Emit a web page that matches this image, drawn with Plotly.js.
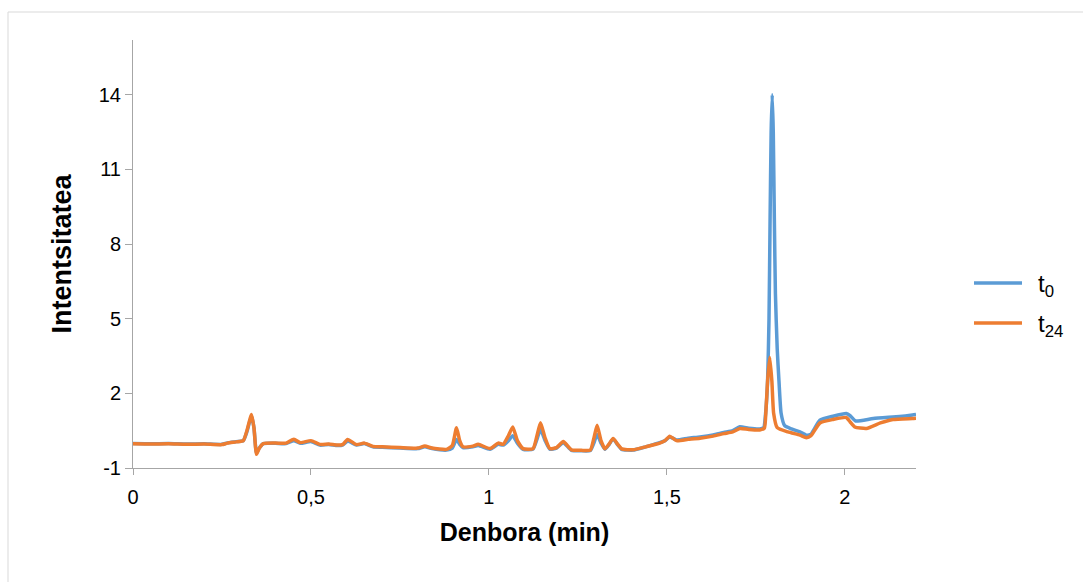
<!DOCTYPE html>
<html>
<head>
<meta charset="utf-8">
<script src="https://cdn.plot.ly/plotly-3.0.1.min.js"></script>
<style>
  html, body { margin: 0; padding: 0; background: #ffffff; }
  #chart { width: 1083px; height: 582px; }
</style>
</head>
<body>
<div id="chart"></div>
<script>
// ---- Data ----
const seriesNames = ['t<sub>0</sub>', 't<sub>24</sub>'];

const timeT0 = [0, 0.05, 0.10, 0.15, 0.20, 0.25, 0.265, 0.29, 0.31, 0.32, 0.333, 0.34, 0.347, 0.355, 0.366,
  0.40, 0.43, 0.452, 0.47, 0.50, 0.525, 0.55, 0.575, 0.59, 0.603, 0.628, 0.65, 0.674, 0.70, 0.75, 0.80,
  0.82, 0.84, 0.881, 0.897, 0.909, 0.918, 0.927, 0.955, 0.97, 1.003, 1.026, 1.04, 1.055, 1.067, 1.08,
  1.096, 1.124, 1.135, 1.145, 1.158, 1.171, 1.19, 1.209, 1.232, 1.26, 1.285, 1.295, 1.304, 1.315, 1.326,
  1.337, 1.349, 1.362, 1.373, 1.405, 1.44, 1.48, 1.495, 1.508, 1.527, 1.56, 1.593, 1.63, 1.66, 1.685,
  1.705, 1.73, 1.761, 1.772, 1.778, 1.783, 1.787, 1.790, 1.793, 1.796, 1.799, 1.802, 1.805, 1.810, 1.815,
  1.821, 1.831, 1.85, 1.874, 1.892, 1.905, 1.93, 1.967, 2.004, 2.015, 2.03, 2.08, 2.154, 2.19, 2.2];
const valueT0 = [-0.02, -0.03, -0.02, -0.04, -0.03, -0.05, 0.01, 0.06, 0.1, 0.45, 1.1, 0.6, -0.4, -0.2, -0.02,
  -0.01, -0.02, 0.1, -0.01, 0.06, -0.08, -0.06, -0.1, -0.07, 0.08, -0.08, -0.02, -0.15, -0.17, -0.2, -0.22,
  -0.15, -0.22, -0.28, -0.2, 0.15, -0.05, -0.18, -0.15, -0.1, -0.25, -0.05, -0.08, 0.1, 0.3, 0.0,
  -0.25, -0.24, 0.15, 0.55, 0.1, -0.24, -0.2, 0.02, -0.29, -0.31, -0.3, 0.0, 0.35, 0.0, -0.25,
  -0.07, 0.17, -0.07, -0.25, -0.28, -0.15, 0.02, 0.1, 0.25, 0.13, 0.2, 0.25, 0.33, 0.43, 0.5,
  0.66, 0.6, 0.57, 0.62, 1.3, 2.5, 5.0, 9.0, 12.5, 14.0, 12.5, 9.0, 6.0, 3.8, 2.5,
  1.2, 0.7, 0.57, 0.45, 0.32, 0.36, 0.92, 1.08, 1.19, 1.1, 0.89, 0.99, 1.07, 1.13, 1.15];

const timeT24 = [0, 0.05, 0.10, 0.15, 0.20, 0.25, 0.265, 0.29, 0.31, 0.32, 0.333, 0.34, 0.347, 0.355, 0.366,
  0.40, 0.43, 0.452, 0.47, 0.50, 0.525, 0.55, 0.575, 0.59, 0.603, 0.628, 0.65, 0.674, 0.70, 0.75, 0.80,
  0.82, 0.84, 0.881, 0.897, 0.909, 0.918, 0.927, 0.955, 0.97, 1.003, 1.026, 1.04, 1.055, 1.067, 1.08,
  1.096, 1.124, 1.135, 1.145, 1.158, 1.171, 1.19, 1.209, 1.232, 1.26, 1.285, 1.295, 1.304, 1.315, 1.326,
  1.337, 1.349, 1.362, 1.373, 1.405, 1.44, 1.48, 1.495, 1.508, 1.527, 1.56, 1.593, 1.63, 1.66, 1.685,
  1.705, 1.73, 1.761, 1.774, 1.778, 1.783, 1.789, 1.795, 1.800, 1.810, 1.84, 1.874, 1.892, 1.905, 1.93,
  1.967, 2.004, 2.015, 2.028, 2.061, 2.1, 2.135, 2.19, 2.2];
const valueT24 = [-0.03, -0.04, -0.03, -0.05, -0.04, -0.06, 0.0, 0.05, 0.1, 0.5, 1.15, 0.6, -0.45, -0.2, -0.02,
  0.0, 0.0, 0.16, 0.02, 0.1, -0.05, -0.04, -0.08, -0.05, 0.15, -0.06, 0.0, -0.13, -0.15, -0.18, -0.2,
  -0.12, -0.2, -0.25, -0.1, 0.62, 0.1, -0.15, -0.12, -0.05, -0.22, 0.0, -0.05, 0.3, 0.65, 0.1,
  -0.22, -0.22, 0.3, 0.82, 0.2, -0.22, -0.18, 0.06, -0.27, -0.29, -0.28, 0.2, 0.72, 0.1, -0.23,
  -0.05, 0.19, -0.05, -0.23, -0.27, -0.15, 0.0, 0.1, 0.28, 0.1, 0.15, 0.2, 0.28, 0.38, 0.45,
  0.59, 0.55, 0.53, 0.6, 1.2, 2.5, 3.45, 2.5, 1.2, 0.62, 0.45, 0.32, 0.22, 0.3, 0.81,
  0.95, 1.03, 0.85, 0.65, 0.59, 0.81, 0.95, 0.99, 1.0];

const xTickValues = [0, 0.5, 1, 1.5, 2];
const xTickLabels = ['0', '0,5', '1', '1,5', '2'];
const yTickValues = [-1, 2, 5, 8, 11, 14];
const yTickLabels = ['-1', '2', '5', '8', '11', '14'];

// ---- Styling ----
const colors = ['#5B9BD5', '#ED7D31'];
const fontFamily = '"Liberation Sans", Arial, sans-serif';
const W = 1083, H = 582;
const M = {l: 133, r: 167, t: 40, b: 114};
const pw = W - M.l - M.r, ph = H - M.t - M.b;
const px = x => (x - M.l) / pw;       // pixel x -> paper
const py = y => (H - M.b - y) / ph;   // pixel y -> paper

const traces = [
  {x: timeT0, y: valueT0, name: seriesNames[0], type: 'scatter', mode: 'lines',
   line: {color: colors[0], width: 3.5, shape: 'spline', smoothing: 0.5}, showlegend: false, hoverinfo: 'skip'},
  {x: timeT24, y: valueT24, name: seriesNames[1], type: 'scatter', mode: 'lines',
   line: {color: colors[1], width: 3.5, shape: 'spline', smoothing: 0.5}, showlegend: false, hoverinfo: 'skip'}
];

const legendY = [283, 323];
const shapes = [
  // outer chart-area border (left and top)
  {type: 'line', xref: 'paper', yref: 'paper', x0: px(8), x1: px(8), y0: py(12), y1: py(600),
   line: {color: '#D9D9D9', width: 1}},
  {type: 'line', xref: 'paper', yref: 'paper', x0: px(8), x1: px(1090), y0: py(12), y1: py(12),
   line: {color: '#D9D9D9', width: 1}}
];
const annotations = [];
seriesNames.forEach((n, i) => {
  shapes.push({type: 'line', xref: 'paper', yref: 'paper', x0: px(974), x1: px(1022),
    y0: py(legendY[i]), y1: py(legendY[i]), line: {color: colors[i], width: 3.5}});
  annotations.push({xref: 'paper', yref: 'paper', x: px(1036), y: py(legendY[i] + 2),
    xanchor: 'left', yanchor: 'middle', text: n, showarrow: false,
    font: {family: fontFamily, size: 24, color: '#000'}});
});

const layout = {
  width: W, height: H,
  margin: M,
  paper_bgcolor: '#ffffff', plot_bgcolor: '#ffffff',
  font: {family: fontFamily, size: 20, color: '#000'},
  showlegend: false,
  xaxis: {
    range: [0, 2.2], tickvals: xTickValues, ticktext: xTickLabels,
    showline: true, linecolor: '#A6A6A6', linewidth: 1, mirror: false,
    ticks: 'outside', ticklen: 6, tickcolor: '#A6A6A6', tickwidth: 1,
    showgrid: false, zeroline: false, ticklabelstandoff: 5,
    tickfont: {family: fontFamily, size: 20, color: '#000'},
    title: {text: '<b>Denbora (min)</b>', font: {family: fontFamily, size: 25, color: '#000'}, standoff: 16}
  },
  yaxis: {
    range: [-1, 16.2], tickvals: yTickValues, ticktext: yTickLabels,
    showline: true, linecolor: '#A6A6A6', linewidth: 1,
    ticks: 'outside', ticklen: 7, tickcolor: '#A6A6A6', tickwidth: 1,
    showgrid: false, zeroline: false,
    tickfont: {family: fontFamily, size: 20, color: '#000'},
    title: {text: '<b>Intentsitatea</b>', font: {family: fontFamily, size: 27, color: '#000'}, standoff: 19}
  },
  shapes: shapes,
  annotations: annotations
};

Plotly.newPlot('chart', traces, layout, {staticPlot: true, displayModeBar: false});
</script>
</body>
</html>
